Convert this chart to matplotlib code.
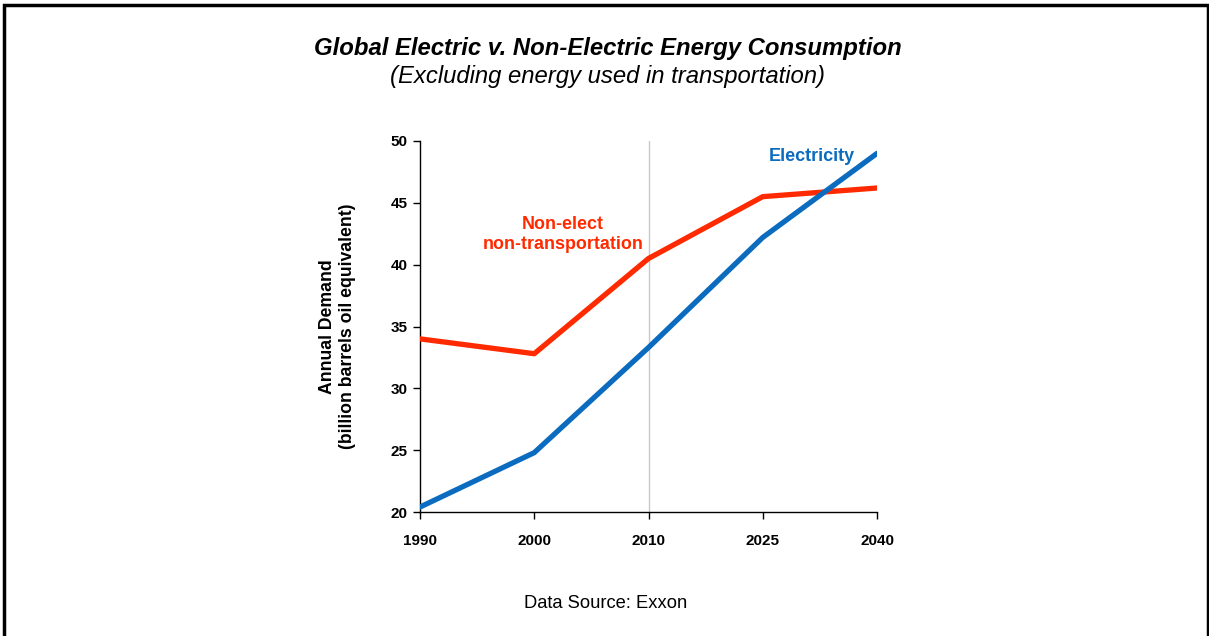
import matplotlib.pyplot as plt
from matplotlib.patches import Rectangle

plt.rcParams['font.family'] = ['Liberation Sans', 'DejaVu Sans']

years = ['1990', '2000', '2010', '2025', '2040']
electricity = [20.4, 24.8, 33.3, 42.2, 49.0]
non_electric = [34.0, 32.8, 40.5, 45.5, 46.2]
y_ticks = [20, 25, 30, 35, 40, 45, 50]

RED = '#ff2a00'
BLUE = '#0a6bbf'

fig = plt.figure(figsize=(12.09, 6.36), dpi=100)
fig.patches.append(Rectangle((4 / 1209, -0.05), 1204 / 1209, 1.05 - 5.5 / 636,
                             transform=fig.transFigure, fill=False,
                             edgecolor='black', linewidth=2.5))

ax = fig.add_axes([420 / 1209, 1 - 512 / 636, 457 / 1209, 371 / 636])
x = list(range(len(years)))

ax.axvline(2, color='#c8c8c8', linewidth=1, zorder=1)
ax.plot(x, non_electric, color=RED, linewidth=3.8, solid_capstyle='round', zorder=3)
ax.plot(x, electricity, color=BLUE, linewidth=3.8, solid_capstyle='round', zorder=3)

ax.set_xlim(0, 4)
ax.set_ylim(20, 50)
ax.set_xticks(x)
ax.set_xticklabels(years, fontweight='bold', fontsize=11)
ax.set_yticks(y_ticks)
ax.set_yticklabels([str(v) for v in y_ticks], fontweight='bold', fontsize=11)
ax.tick_params(length=5, width=1, color='black', pad=4)
ax.tick_params(axis='x', pad=11)
for side in ('top', 'right'):
    ax.spines[side].set_visible(False)
for side in ('left', 'bottom'):
    ax.spines[side].set_linewidth(1)

ax.set_ylabel('Annual Demand\n(billion barrels oil equivalent)',
              fontweight='bold', fontsize=12.7, linespacing=1.25, labelpad=25)

ax.text(1.25, 42.45, 'Non-elect\nnon-transportation', color=RED,
        fontweight='bold', fontsize=12.9, ha='center', va='center', linespacing=1.2)
ax.text(3.43, 48.75, 'Electricity', color=BLUE, fontweight='bold',
        fontsize=13, ha='center', va='center')

fig.text(0.5025, 1 - 49 / 636, 'Global Electric v. Non-Electric Energy Consumption',
         fontsize=17.2, fontweight='bold', fontstyle='italic', ha='center', va='center')
fig.text(0.5025, 1 - 77 / 636, '(Excluding energy used in transportation)',
         fontsize=17.2, fontstyle='italic', ha='center', va='center')
fig.text(606 / 1209, 1 - 604 / 636, 'Data Source: Exxon', fontsize=13.2,
         ha='center', va='center')

fig.savefig('out.png', dpi=100)
